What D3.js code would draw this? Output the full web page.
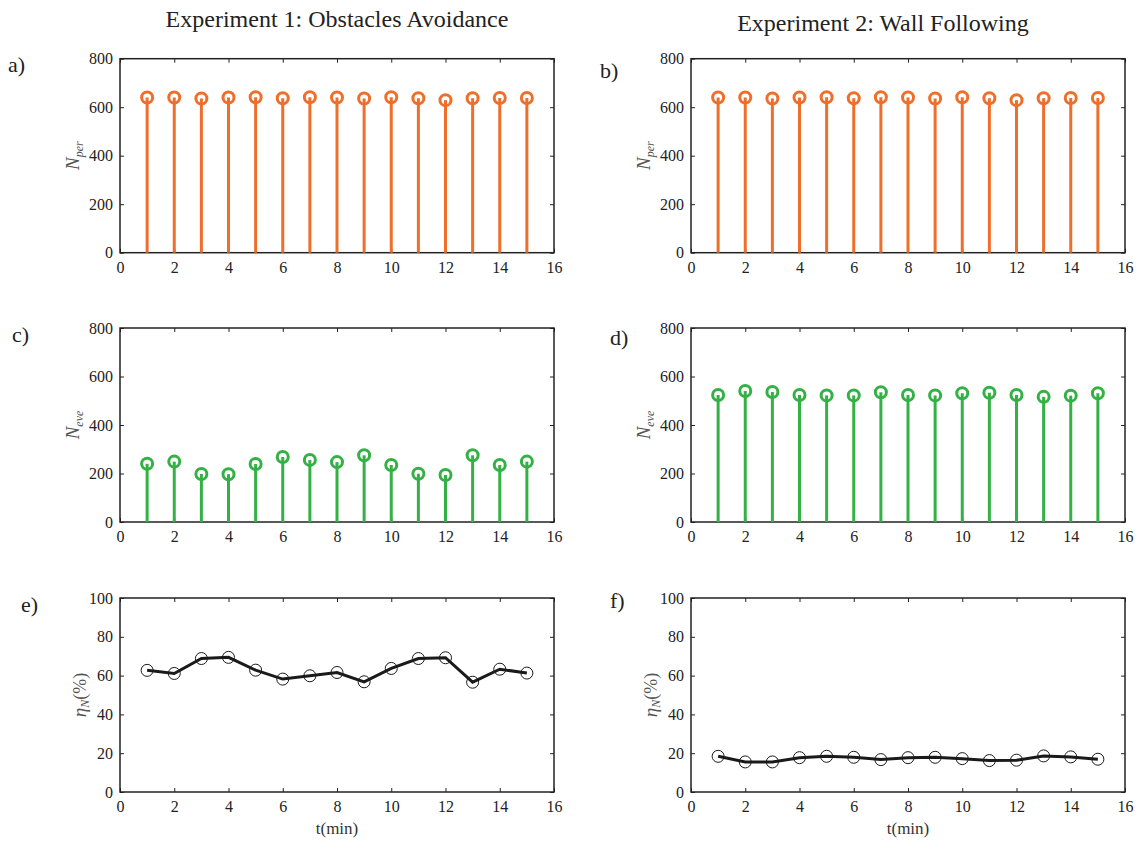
<!DOCTYPE html>
<head>
<meta charset="utf-8">
<style>
body { margin: 0; background: #fff; }
text { font-family: "Liberation Serif", "DejaVu Serif", serif; fill: #222; }
.domain { display: none; }
.tick line { stroke: #222; stroke-width: 1px; }
.frame { fill: none; stroke: #222; stroke-width: 1.5px; }
</style>
</head>
<body>
<script src="https://cdn.jsdelivr.net/npm/d3@7"></script>
<script>
// x positions (minutes)
var minutes = [1,2,3,4,5,6,7,8,9,10,11,12,13,14,15];
var xTicks = [0,2,4,6,8,10,12,14,16];

// Experiment 1: obstacles avoidance
var nPer1 = [640,640,636,640,641,637,641,640,636,641,637,629,637,638,638];
var nEve1 = [240,249,198,197,239,268,256,247,275,235,199,194,275,235,249];
var eta1  = [62.7,61.1,68.8,69.4,62.8,58.2,59.9,61.6,56.8,63.7,68.8,69.2,56.6,63.3,61.3];

// Experiment 2: wall following
var nPer2 = [640,640,636,640,641,637,641,640,636,641,637,629,637,638,638];
var nEve2 = [524,540,536,524,522,522,535,524,522,531,533,524,516,521,531];
var eta2  = [18.4,15.5,15.5,17.7,18.4,17.9,16.7,17.7,17.9,17.2,16.2,16.4,18.6,18.1,16.9];

var orange = "#ee6e2a", green = "#34b145";
var serif = "'Liberation Serif', 'DejaVu Serif', serif";

var svg = d3.select("body").append("svg")
    .attr("width", 1137)
    .attr("height", 841);

var colX = [120, 691], colW = 434;
var rowY = [58.7, 328, 598], rowH = 194;

function panel(col, row, yMax, yStep) {
  var x0 = colX[col], y0 = rowY[row];
  var g = svg.append("g").attr("transform", "translate(" + x0 + "," + y0 + ")");
  var x = d3.scaleLinear().domain([0, 16]).range([0, colW]);
  var y = d3.scaleLinear().domain([0, yMax]).range([rowH, 0]);
  var yT = d3.range(0, yMax + 1, yStep);

  g.append("g").attr("transform", "translate(0," + rowH + ")")
    .call(d3.axisBottom(x).tickValues(xTicks).tickSizeInner(-4).tickPadding(9));
  g.append("g")
    .call(d3.axisTop(x).tickValues(xTicks).tickSizeInner(-4).tickFormat(""));
  g.append("g")
    .call(d3.axisLeft(y).tickValues(yT).tickSizeInner(-4).tickPadding(7));
  g.append("g").attr("transform", "translate(" + colW + ",0)")
    .call(d3.axisRight(y).tickValues(yT).tickSizeInner(-4).tickFormat(""));
  g.selectAll("g").attr("font-family", null);
  g.selectAll(".tick text")
    .style("font-family", serif).style("font-size", "16px").style("fill", "#222");
  g.append("rect").attr("class", "frame")
    .attr("width", colW).attr("height", rowH);
  return { g: g, x: x, y: y };
}

function stems(p, vals, color) {
  p.g.selectAll(".stem").data(vals).enter().append("line")
    .attr("x1", function (d, i) { return p.x(minutes[i]); })
    .attr("x2", function (d, i) { return p.x(minutes[i]); })
    .attr("y1", p.y(0))
    .attr("y2", function (d) { return p.y(d); })
    .style("stroke", color).style("stroke-width", 3);
  p.g.selectAll(".mk").data(vals).enter().append("circle")
    .attr("cx", function (d, i) { return p.x(minutes[i]); })
    .attr("cy", function (d) { return p.y(d); })
    .attr("r", 5.5)
    .style("fill", "none").style("stroke", color).style("stroke-width", 3);
}

function curve(p, vals) {
  var line = d3.line()
    .x(function (d, i) { return p.x(minutes[i]); })
    .y(function (d) { return p.y(d); });
  p.g.append("path").attr("d", line(vals))
    .style("fill", "none").style("stroke", "#1a1a1a").style("stroke-width", 3);
  p.g.selectAll(".mk").data(vals).enter().append("circle")
    .attr("cx", function (d, i) { return p.x(minutes[i]); })
    .attr("cy", function (d) { return p.y(d); })
    .attr("r", 6)
    .style("fill", "none").style("stroke", "#1a1a1a").style("stroke-width", 1);
}

function yLabel(col, row, dx) {
  return svg.append("text")
    .attr("transform", "translate(" + (colX[col] - dx) + "," + (rowY[row] + rowH / 2) + ") rotate(-90)")
    .style("text-anchor", "middle").style("fill", "#555");
}

var pa = panel(0, 0, 800, 200); stems(pa, nPer1, orange);
var pb = panel(1, 0, 800, 200); stems(pb, nPer2, orange);
var pc = panel(0, 1, 800, 200); stems(pc, nEve1, green);
var pd = panel(1, 1, 800, 200); stems(pd, nEve2, green);
var pe = panel(0, 2, 100, 20); curve(pe, eta1);
var pf = panel(1, 2, 100, 20); curve(pf, eta2);

// y axis labels
[[0,0,"per"],[1,0,"per"],[0,1,"eve"],[1,1,"eve"]].forEach(function (a) {
  var t = yLabel(a[0], a[1], 41);
  t.append("tspan").text("N").style("font-style", "italic").style("font-size", "19px");
  t.append("tspan").text(a[2]).attr("dy", 4).style("font-style", "italic").style("font-size", "12px");
});
[0, 1].forEach(function (c) {
  var t = yLabel(c, 2, 34);
  t.append("tspan").text("η").style("font-style", "italic").style("font-size", "19px");
  t.append("tspan").text("N").attr("dy", 3).style("font-style", "italic").style("font-size", "12px");
  t.append("tspan").text("(%)").attr("dy", -3).style("font-size", "18px");
});

// x axis labels
[0, 1].forEach(function (c) {
  svg.append("text")
    .attr("x", colX[c] + colW / 2).attr("y", 834)
    .style("text-anchor", "middle").style("font-size", "17px").style("fill", "#333")
    .text("t(min)");
});

// column titles
svg.append("text").attr("x", 337).attr("y", 27)
  .style("text-anchor", "middle").style("font-size", "24px")
  .text("Experiment 1: Obstacles Avoidance");
svg.append("text").attr("x", 883).attr("y", 31)
  .style("text-anchor", "middle").style("font-size", "24px")
  .text("Experiment 2: Wall Following");

// panel letters
var letters = [["a)", 8, 72], ["b)", 600, 78], ["c)", 12, 342], ["d)", 610, 345], ["e)", 21, 612], ["f)", 610, 608]];
svg.selectAll(".letter").data(letters).enter().append("text")
  .attr("x", function (d) { return d[1]; })
  .attr("y", function (d) { return d[2]; })
  .style("font-size", "22px")
  .text(function (d) { return d[0]; });
</script>
</body>
